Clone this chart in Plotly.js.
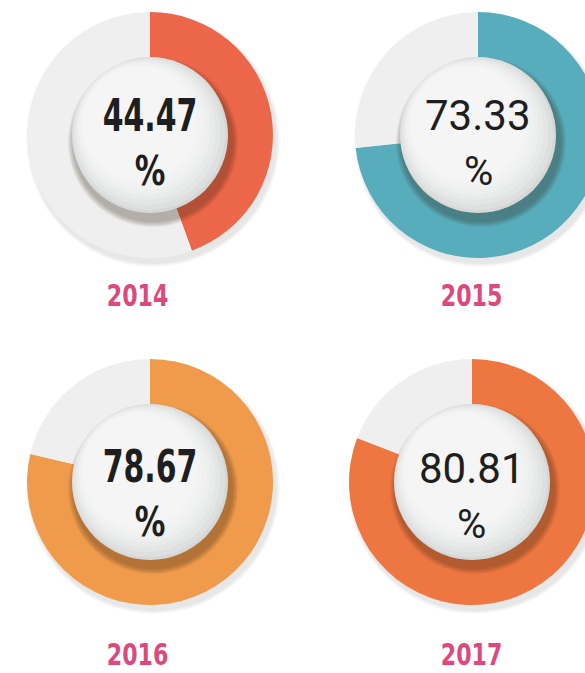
<!DOCTYPE html>
<html>
<head>
<meta charset="utf-8">
<script src="https://cdn.plot.ly/plotly-3.0.1.min.js"></script>
<style>
  html, body { margin: 0; padding: 0; background: #ffffff; overflow: hidden; }
  #chart { width: 620px; height: 673px; }
</style>
</head>
<body>
<div id="chart"></div>
<script>
// ---- data ----
const years = ["2014", "2015", "2016", "2017"];
const percents = [44.47, 73.33, 78.67, 80.81];
const valueLabels = ["44.47", "73.33", "78.67", "80.81"];

// ---- styling ----
const ringColors = ["#ec6749", "#57adbc", "#ef9b4b", "#ee7741"];
const restColor = "#efefef";
const W = 620, H = 673;
const centers = [[150, 135], [478, 135], [150, 482], [472, 482]];
const R = 123, discR = 78;
const boldText = [true, false, true, false];
const condFam = "DejaVu Sans Condensed, DejaVu Sans, sans-serif";

function dom(cx, cy, r) {
  return { x: [(cx - r) / W, (cx + r) / W], y: [1 - (cy + r) / H, 1 - (cy - r) / H] };
}
function circleTrace(cx, cy, r, color) {
  return {
    type: "pie", values: [1], labels: ["c"], sort: false,
    marker: { colors: [color], line: { width: 0 } },
    textinfo: "none", hoverinfo: "skip", showlegend: false,
    domain: dom(cx, cy, r)
  };
}

const traces = [];
const annotations = [];
const scales = [];
years.forEach((yr, i) => {
  const [cx, cy] = centers[i];
  // soft outer shadow (layered for blur)
  for (let k = 0; k < 4; k++) {
    traces.push(circleTrace(cx + 3, cy + 5, R + 4 - k, "rgba(0,0,0,0.025)"));
  }
  // the donut
  traces.push({
    type: "pie", values: [percents[i], 100 - percents[i]], labels: ["share", "rest"],
    sort: false, direction: "clockwise", rotation: 0, hole: 0.6,
    marker: { colors: [ringColors[i], restColor], line: { width: 0 } },
    textinfo: "none", hoverinfo: "skip", showlegend: false,
    domain: dom(cx, cy, R)
  });
  // inner disc soft shadow (layered)
  for (let k = 0; k < 6; k++) {
    traces.push(circleTrace(cx + 3, cy + 7, discR + 7 - k, "rgba(50,30,20,0.06)"));
  }
  // disc with a light gradient imitation
  traces.push(circleTrace(cx, cy, discR, "#d6d7d7"));
  for (let k = 0; k < 7; k++) {
    traces.push(circleTrace(cx - 1.5 - k * 1.5, cy - 1.5 - k * 1.7, discR - 1.5 - k * 3.2, "rgba(255,255,255,0.2)"));
  }

  const t = boldText[i] ? "<b>" + valueLabels[i] + "</b>" : valueLabels[i];
  const dy = [0, 0, 4, 6][i];
  annotations.push({
    xref: "paper", yref: "paper", x: cx / W, y: 1 - (cy - 20 + dy) / H,
    xanchor: "center", yanchor: "middle", showarrow: false,
    text: t,
    font: { family: boldText[i] ? condFam : "Roboto, sans-serif", size: boldText[i] ? 45 : 42, color: "#1e1e1e" }
  });
  scales.push(boldText[i] ? 0.74 : 1.0);
  annotations.push({
    xref: "paper", yref: "paper", x: cx / W, y: 1 - (cy + 36 + dy) / H,
    xanchor: "center", yanchor: "middle", showarrow: false,
    text: boldText[i] ? "<b>%</b>" : "%",
    font: { family: boldText[i] ? condFam : "Roboto, sans-serif", size: 40, color: "#1e1e1e" }
  });
  scales.push(boldText[i] ? 0.85 : 1.0);
  const ly = i < 2 ? 295 : 654;
  const lx = [137, 472, 137, 472][i];
  annotations.push({
    xref: "paper", yref: "paper", x: lx / W, y: 1 - ly / H,
    xanchor: "center", yanchor: "middle", showarrow: false,
    text: "<b>" + yr + "</b>",
    font: { family: condFam, size: 30, color: "#dc4a7d" }
  });
  scales.push(0.82);
});

const layout = {
  width: W, height: H,
  margin: { l: 0, r: 0, t: 0, b: 0 },
  paper_bgcolor: "#ffffff", plot_bgcolor: "#ffffff",
  showlegend: false,
  annotations: annotations
};

Plotly.newPlot("chart", traces, layout, { displayModeBar: false, staticPlot: true }).then(gd => {
  const groups = gd.querySelectorAll("g.annotation");
  groups.forEach(g => {
    const idx = +g.getAttribute("data-index");
    const s = scales[idx];
    if (s !== undefined && s !== 1) {
      const txt = g.querySelector("text.annotation-text");
      if (txt) {
        txt.style.transformBox = "fill-box";
        txt.style.transformOrigin = "center";
        txt.style.transform = "scaleX(" + s + ")";
      }
    }
  });
});
</script>
</body>
</html>
